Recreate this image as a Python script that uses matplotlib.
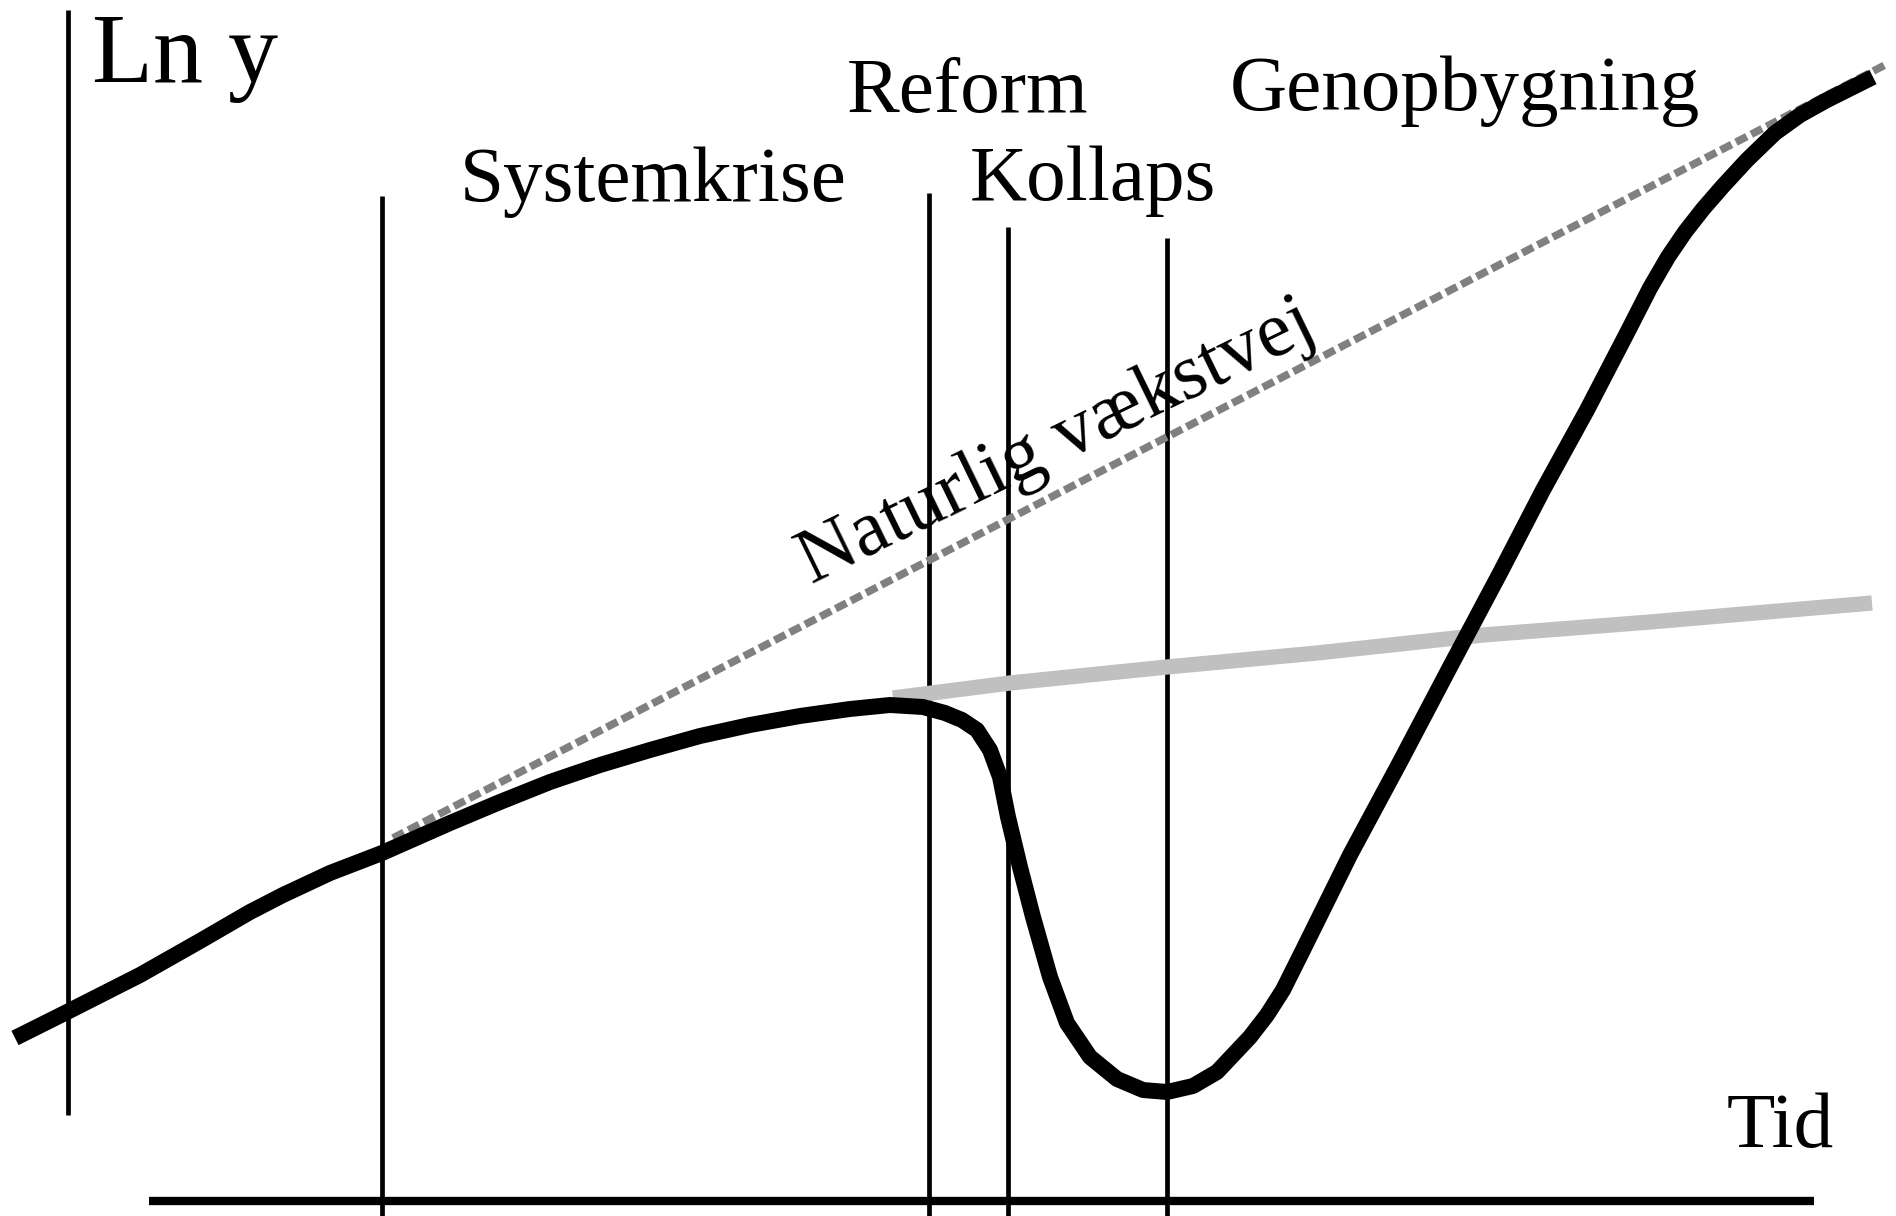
"""
Schematic: natural growth path vs. system crisis, collapse and rebuilding.
"""

import matplotlib
matplotlib.use("Agg")
import matplotlib.pyplot as plt

plt.rcParams["font.family"] = ["Liberation Serif", "DejaVu Serif"]

# chart units: time (t) and ln y, arbitrary scale
# actual path of ln y over time
PATH_T = [1.5, 6.7, 14.0, 20.0, 25.0, 28.3, 33.0, 38.2, 45.0, 50.0, 55.0, 60.0,
          65.0, 70.0, 75.0, 80.0, 85.0, 89.0, 92.3, 94.5, 96.2, 97.7, 99.0,
          100.0, 100.8, 102.0, 103.3, 105.0, 106.7, 109.0, 111.7, 114.3, 116.7,
          119.3, 121.7, 125.0, 126.7, 128.3, 130.3, 135.0, 140.0, 145.0, 150.0,
          154.3, 158.7, 162.7, 165.0, 166.8, 168.5, 170.3, 172.3, 174.7, 177.5,
          180.0, 182.7, 187.3]
PATH_LNY = [17.8, 20.4, 24.1, 27.5, 30.4, 32.1, 34.3, 36.3, 39.3, 41.4, 43.4, 45.1,
            46.6, 48.0, 49.1, 50.0, 50.7, 51.1, 50.9, 50.3, 49.6, 48.6, 46.6,
            43.9, 39.9, 34.9, 29.9, 23.9, 19.3, 15.9, 13.7, 12.6, 12.4,
            13.0, 14.4, 17.9, 20.1, 22.6, 26.6, 36.1, 45.4, 54.9, 64.3,
            72.6, 80.6, 88.3, 92.8, 95.9, 98.4, 100.7, 103.0, 105.6, 108.3,
            110.1, 111.6, 113.9]

# natural growth path (straight trend)
TREND_T = [39.3, 188.5]
TREND_LNY = [37.8, 115.1]

# stagnating path without reform
STAG_T = [89.3, 101.0, 116.7, 131.7, 148.3, 165.0, 187.2]
STAG_LNY = [51.8, 53.3, 54.9, 56.3, 58.1, 59.4, 61.3]

# phase boundaries (time) and how high each marker line reaches
PHASE_T = [38.2, 92.9, 100.8, 116.7]
PHASE_TOP = [102.0, 102.3, 98.9, 97.8]

# phase labels: (text, t, ln y)
PHASE_LABELS = [
    ("Systemkrise", 65.3, 101.5),
    ("Reform", 96.8, 110.4),
    ("Kollaps", 109.3, 101.6),
    ("Genopbygning", 146.5, 110.6),
]

W, H = 189.6, 121.6

fig = plt.figure(figsize=(18.96, 12.16), dpi=100)
ax = fig.add_axes([0, 0, 1, 1])
ax.set_xlim(0, W)
ax.set_ylim(0, H)
ax.axis("off")

# axes drawn by hand: y axis on the left, time axis at the bottom
ax.plot([6.8, 6.8], [10.1, 120.6], color="black", lw=3.4, solid_capstyle="butt")
ax.plot([14.9, 181.4], [1.5, 1.5], color="black", lw=6, solid_capstyle="butt")

# phase marker lines
for t, top in zip(PHASE_T, PHASE_TOP):
    ax.plot([t, t], [0, top], color="black", lw=3.4, solid_capstyle="butt")

# paths
ax.plot(STAG_T, STAG_LNY, color="#c0c0c0", lw=11, solid_capstyle="butt", zorder=2)
ax.plot(TREND_T, TREND_LNY, color="#808080", lw=5.5, dashes=(1.6, 0.65), zorder=3)
ax.plot(PATH_T, PATH_LNY, color="black", lw=11.5, solid_capstyle="butt",
        solid_joinstyle="round", zorder=4)

# texts
ax.text(18.5, 113.4, "Ln y", fontsize=72, ha="center", va="baseline")
ax.text(178.0, 6.9, "Tid", fontsize=57, ha="center", va="baseline")
for label, t, y in PHASE_LABELS:
    ax.text(t, y, label, fontsize=57, ha="center", va="baseline")
ax.text(106.5, 75.6, "Naturlig vækstvej", fontsize=57, ha="center", va="baseline",
        rotation=26, rotation_mode="anchor")

fig.savefig("out.png", dpi=100, facecolor="white")
